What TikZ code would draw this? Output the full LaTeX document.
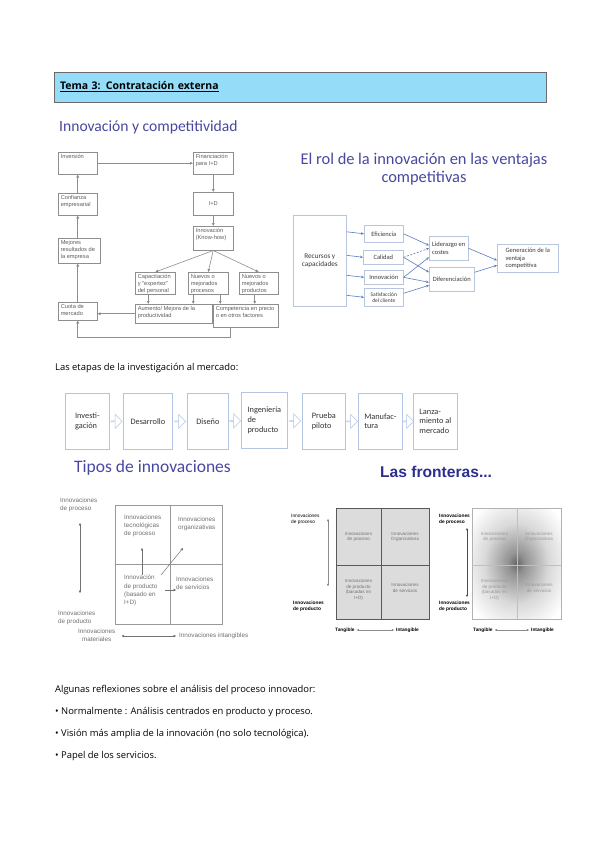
\documentclass[tikz,border=0pt]{standalone}
\usepackage{fontspec}
\setmainfont{Open Sans}
\newfontfamily\titlefont{Carlito}
\newfontfamily\arialfont{Liberation Sans}
\usetikzlibrary{arrows.meta,calc,shapes.arrows}

\definecolor{temablue}{HTML}{94DCF8}
\definecolor{temaline}{HTML}{6B6B6B}
\definecolor{titleviolet}{HTML}{4848A0}
\definecolor{flowgray}{HTML}{8E8E8E}
\definecolor{flowtextc}{HTML}{5E5E5E}
\definecolor{rolline}{HTML}{B7C6DE}
\definecolor{rolarrowc}{HTML}{5C7DC0}
\definecolor{roltextc}{HTML}{3A3A3A}
\definecolor{stageline}{HTML}{B3C5E3}
\definecolor{tipogray}{HTML}{707070}
\definecolor{frontblue}{HTML}{2C2F8E}
\definecolor{frontfill}{HTML}{DCDCDC}
\definecolor{frontline}{HTML}{595959}

\newcommand{\flowtext}[3]{\parbox[t][#2][t]{#1}{\raggedright #3}}

\pgfdeclareradialshading{frontshade}{\pgfpoint{0bp}{0bp}}{color(0bp)=(black!60); color(5bp)=(black!42); color(18bp)=(black!15); color(32bp)=(white); color(50bp)=(white)}

\tikzset{
  temabox/.style={draw=temaline, line width=0.8pt, fill=temablue, minimum width=492pt, minimum height=30pt,
    text width=480pt, align=left, inner xsep=6pt, font=\fontsize{10.5}{12}\selectfont},
  bigtitle/.style={font=\titlefont\fontsize{15.6}{18}\selectfont, text=titleviolet, inner sep=0pt},
  bodytext/.style={font=\fontsize{9.4}{11}\selectfont, anchor=west, inner sep=0pt},
  flowbox/.style={draw=flowgray, line width=0.5pt, inner sep=2.5pt, anchor=north west,
    font=\arialfont\fontsize{5.7}{6.8}\selectfont, text=flowtextc},
  flowarrow/.style={draw=flowgray, line width=0.6pt, -{Triangle[length=3pt,width=2.6pt,fill=black!60]}},
  rolbox/.style={draw=rolline, line width=0.6pt, inner sep=1pt, anchor=north west, align=left,
    font=\titlefont\fontsize{6.5}{7.3}\selectfont, text=roltextc},
  rolarrow/.style={draw=rolarrowc, line width=0.6pt, -{Stealth[length=3pt,width=2.6pt]}},
  stagebox/.style={draw=stageline, line width=0.7pt, minimum height=56pt, anchor=north west, align=left,
    inner sep=0pt, font=\titlefont\fontsize{8.3}{9.6}\selectfont, text=black!80},
  stagearrow/.style={single arrow, draw=stageline, line width=0.6pt, fill=white, inner sep=0pt,
    minimum height=11pt, minimum width=14pt, single arrow head extend=3.5pt},
  tipotext/.style={font=\arialfont\fontsize{6.3}{7.9}\selectfont, text=tipogray, align=left,
    anchor=north west, inner sep=0pt},
  tipoline/.style={draw=black!40, line width=0.6pt},
  tipoarrow/.style={draw=black!55, line width=0.5pt, -{Triangle[length=2.4pt,width=2.4pt,fill=black!75]}},
  tipoaxis/.style={draw=black!55, line width=0.5pt,
    {Triangle[length=2.4pt,width=2.4pt,fill=black!75]}-{Triangle[length=2.4pt,width=2.4pt,fill=black!75]}},
  fronttext/.style={font=\arialfont\fontsize{4.6}{5.6}\selectfont, align=center, inner sep=0pt},
  frontlabel/.style={font=\arialfont\fontsize{4.8}{6}\selectfont, align=left, anchor=north west, inner sep=0pt},
  frontbold/.style={frontlabel, font=\arialfont\bfseries\fontsize{4.8}{6}\selectfont},
  frontaxis/.style={draw=black!45, line width=0.4pt,
    {Triangle[length=2.2pt,width=2pt,fill=black]}-{Triangle[length=2.2pt,width=2pt,fill=black]}}
}

\begin{document}
\begin{tikzpicture}[x=1pt,y=-1pt]
\useasboundingbox (0,0) rectangle (599,848);
\fill[white] (0,0) rectangle (599,848);

% header
\node[temabox] (tema) at (300,87) {\textbf{\underline{Tema 3: Contratación externa}}};

% innovacion y competitividad
\node[bigtitle, anchor=west] (titinn) at (59,127) {Innovación y competitividad};

\node[flowbox] (inv) at (58,152) {\flowtext{34pt}{17pt}{Inversión}};
\node[flowbox] (fin) at (193,152) {\flowtext{35pt}{17pt}{Financiación\\para I+D}};
\node[flowbox] (conf) at (58,193) {\flowtext{34pt}{17pt}{Confianza\\empresarial}};
\node[flowbox, minimum width=40pt, minimum height=23pt] (id) at (193,192) {I+D};
\node[flowbox] (innov) at (193,226) {\flowtext{35pt}{19pt}{Innovación\\(Know-how)}};
\node[flowbox] (mej) at (58,238) {\flowtext{37pt}{20pt}{Mejores\\resultados de\\la empresa}};
\node[flowbox] (cap) at (135,272) {\flowtext{35pt}{17pt}{Capacitación\\y "expertez"\\del personal}};
\node[flowbox] (npro) at (188,272) {\flowtext{35pt}{17pt}{Nuevos o\\mejorados\\procesos}};
\node[flowbox] (nprod) at (239,272) {\flowtext{34pt}{17pt}{Nuevos o\\mejorados\\productos}};
\node[flowbox] (cuota) at (58,302) {\flowtext{34pt}{13pt}{Cuota de\\mercado}};
\node[flowbox] (aum) at (135,304) {\flowtext{72pt}{14pt}{Aumento/ Mejora de la\\productividad}};
\node[flowbox] (comp) at (213,304) {\flowtext{60pt}{18pt}{Competencia en precio\\o en otros factores}};

\draw[flowarrow] (inv) -- (fin);
\draw[flowarrow] (fin) -- (id);
\draw[flowarrow] (id) -- (innov);
\draw[flowarrow] (conf) -- (inv);
\draw[flowarrow] (mej.north -| conf.south) -- (conf.south);
\draw[flowarrow] (cuota.north) -- (cuota.north |- mej.south);
\foreach \n in {cap,npro,nprod}
  \draw[flowarrow] (innov.south) -- (\n.north);
\draw[flowarrow] ([xshift=-7pt]cap.south) -- ([xshift=-7pt]cap.south |- aum.north);
\draw[flowarrow] ([xshift=-15pt]npro.south) -- ([xshift=-15pt]npro.south |- aum.north);
\draw[flowarrow] ([xshift=12pt]npro.south) -- ([xshift=12pt]npro.south |- comp.north);
\draw[flowarrow] ([xshift=-4pt]nprod.south) -- ([xshift=-4pt]nprod.south |- comp.north);
\draw[flowarrow] (aum.west) -- (aum.west -| cuota.east);
\draw[flowarrow] ([xshift=-15pt]comp.south) -- ++(0,10) -| (cuota.south);

% el rol de la innovacion
\node[bigtitle, align=center, font=\titlefont\fontsize{16.4}{18}\selectfont] (titrol) at (424,169)
  {El rol de la innovación en las ventajas\\competitivas};

\node[rolbox, align=center, minimum width=53pt, minimum height=91pt,
  font=\titlefont\fontsize{7.2}{8.2}\selectfont] (rec) at (293,215) {Recursos y\\capacidades};
\node[rolbox, minimum width=39pt, minimum height=17pt] (efi) at (364,225) {Eficiencia};
\node[rolbox, minimum width=40pt, minimum height=14pt] (cal) at (363,250) {Calidad};
\node[rolbox, minimum width=39pt, minimum height=14pt] (inn) at (364,270) {Innovación};
\node[rolbox, align=center, minimum width=39pt, minimum height=18pt,
  font=\titlefont\fontsize{5.5}{6.3}\selectfont] (sat) at (364,288) {Satisfacción\\del cliente};
\node[rolbox, minimum width=39pt, minimum height=24pt] (lid) at (429,236) {Liderazgo en\\costes};
\node[rolbox, minimum width=45pt, minimum height=24pt] (dif) at (429,267) {Diferenciación};
\node[rolbox, minimum width=61pt, minimum height=28pt] (gen) at (497,244) {Generación de la\\ventaja\\competitiva};

\foreach \n in {efi,cal,inn,sat}
  \draw[rolarrow] ([yshift=2pt]rec.east |- \n.west) -- (\n.west);
\draw[rolarrow] (efi.east) -- ([yshift=3pt]lid.west);
\draw[rolarrow, dash pattern=on 2pt off 1.5pt] (cal.east) -- (lid.west);
\draw[rolarrow] (cal.east) -- ([yshift=7pt]dif.west);
\draw[rolarrow] (inn.east) -- ([yshift=-9pt]lid.west);
\draw[rolarrow] (inn.east) -- ([yshift=-3pt]dif.west);
\draw[rolarrow] ([yshift=4pt]sat.east) -- ([yshift=-6pt]dif.west);
\draw[rolarrow] (lid.east) -- ([yshift=-2pt]gen.west);
\draw[rolarrow] ([yshift=7pt]dif.east) -- ([yshift=-7pt]gen.west);

% etapas
\node[bodytext] (etapas) at (55,368) {Las etapas de la investigación al mercado:};

\node[stagebox, minimum width=44pt] (s1) at (65,393) {Investi-\\gación};
\node[stagebox, minimum width=49pt] (s2) at (123,393) {Desarrollo};
\node[stagebox, minimum width=41pt] (s3) at (187,393) {Diseño};
\node[stagebox, minimum width=46pt] (s4) at (241,392) {Ingeniería\\de\\producto};
\node[stagebox, minimum width=43pt] (s5) at (302,393) {Prueba\\piloto};
\node[stagebox, minimum width=44pt] (s6) at (358,393) {Manufac-\\tura};
\node[stagebox, minimum width=44pt] (s7) at (413,393) {Lanza-\\miento al\\mercado};
\foreach \a/\b in {s1/s2,s2/s3,s3/s4,s4/s5,s5/s6,s6/s7}
  \node[stagearrow] (go\a) at ($(\a.east)!0.5!(\b.west)$) {};

% tipos de innovaciones
\node[bigtitle, anchor=west, font=\titlefont\fontsize{17.5}{20}\selectfont] (tittipos) at (74,468) {Tipos de innovaciones};

\draw[tipoline] (115,505) rectangle (222,624);
\draw[tipoline] (170,505) -- (170,624);
\draw[tipoline] (115,564) -- (222,564);

\node[tipotext] (tec) at (124,515) {Innovaciones\\tecnológicas\\de proceso};
\node[tipotext] (org) at (178,517) {Innovaciones\\organizativas};
\node[tipotext, font=\arialfont\fontsize{6.3}{8.2}\selectfont] (prod) at (124,575) {Innovación\\de producto\\(basado en\\I+D)};
\node[tipotext] (serv) at (176,577) {Innovaciones\\de servicios};
\node[tipotext] (proclab) at (60,498) {Innovaciones\\de proceso};
\node[tipotext] (prodlab) at (58,611) {Innovaciones\\de producto};
\node[tipotext, align=center] (mat) at (78,629) {Innovaciones\\materiales};
\node[tipotext, anchor=west] (intang) at (179,636) {Innovaciones intangibles};

\coordinate (ptop) at (80,523);
\coordinate (pbot) at (80,593);
\draw[tipoaxis] (ptop) -- (pbot);
\coordinate (uptip) at (142,548);
\coordinate (diagtip) at (183,548);
\draw[tipoarrow] (prod.north -| uptip) -- (uptip);
\draw[tipoarrow] ([xshift=37pt]prod.north west) -- (diagtip);
\draw[tipoarrow] ([xshift=41pt,yshift=-15pt]prod.north west) -- (serv.west |- 0,590);
\draw[tipoaxis] ([xshift=6pt]mat.east |- intang.west) -- ([xshift=-3pt]intang.west);

% las fronteras
\node[anchor=west, inner sep=0pt, font=\arialfont\bfseries\fontsize{15.6}{18}\selectfont, text=frontblue] (titfront) at (380,472) {Las fronteras...};

% left grid
\fill[frontfill] (336,508) rectangle (429,619);
\draw[frontline, line width=0.9pt] (336,508) rectangle (429,619);
\draw[frontline, line width=0.9pt] (381,508) -- (381,619);
\draw[frontline, line width=0.9pt] (336,565) -- (429,565);
\node[fronttext, text=black!55] (fa1) at (358.5,537) {Innovaciones\\de proceso};
\node[fronttext, text=black!55] (fa2) at (405,537) {Innovaciones\\Organizativas};
\node[fronttext, text=black!55] (fa3) at (358.5,590) {Innovaciones\\de producto\\(basadas en\\I+D)};
\node[fronttext, text=black!55] (fa4) at (405,588) {Innovaciones\\de servicios};
\node[frontlabel] (fl1) at (291,514) {Innovaciones\\de proceso};
\node[frontbold] (fl2) at (293,601) {Innovaciones\\de producto};
\coordinate (fltop) at (328,519);
\coordinate (flbot) at (328,586);
\draw[frontaxis] (fltop) -- (flbot);
\node[frontbold, anchor=west] (ftan1) at (335,630) {Tangible};
\node[frontbold, anchor=west] (fint1) at (396,630) {Intangible};
\draw[frontaxis] ([xshift=2pt]ftan1.east) -- ([xshift=-2pt]fint1.west);

% right grid
\shade[shading=frontshade] (472,508) rectangle (561,619);
\draw[black!30, line width=0.6pt] (472,508) rectangle (561,619);
\draw[black!25, line width=0.6pt] (517,508) -- (517,619);
\draw[black!25, line width=0.6pt] (472,565) -- (561,565);
\node[fronttext, text=black!40] (fb1) at (494.5,537) {Innovaciones\\de proceso};
\node[fronttext, text=black!40] (fb2) at (539,537) {Innovaciones\\Organizativas};
\node[fronttext, text=black!40] (fb3) at (494.5,590) {Innovaciones\\de producto\\(basadas en\\I+D)};
\node[fronttext, text=black!40] (fb4) at (539,588) {Innovaciones\\de servicios};
\node[frontbold] (fr1) at (439,514) {Innovaciones\\de proceso};
\node[frontbold] (fr2) at (439,601) {Innovaciones\\de producto};
\coordinate (frtop) at (467,528);
\coordinate (frbot) at (467,597);
\draw[frontaxis, draw=black!70] (frtop) -- (frbot);
\node[frontbold, anchor=west] (ftan2) at (473,630) {Tangible};
\node[frontbold, anchor=west] (fint2) at (531,630) {Intangible};
\draw[frontaxis] ([xshift=2pt]ftan2.east) -- ([xshift=-2pt]fint2.west);

% reflexiones
\node[bodytext] (refl) at (55,690) {Algunas reflexiones sobre el análisis del proceso innovador:};
\node[bodytext] (b1) at (55,712) {• Normalmente : Análisis centrados en producto y proceso.};
\node[bodytext] (b2) at (55,734) {• Visión más amplia de la innovación (no solo tecnológica).};
\node[bodytext] (b3) at (55,756) {• Papel de los servicios.};
\end{tikzpicture}
\end{document}
